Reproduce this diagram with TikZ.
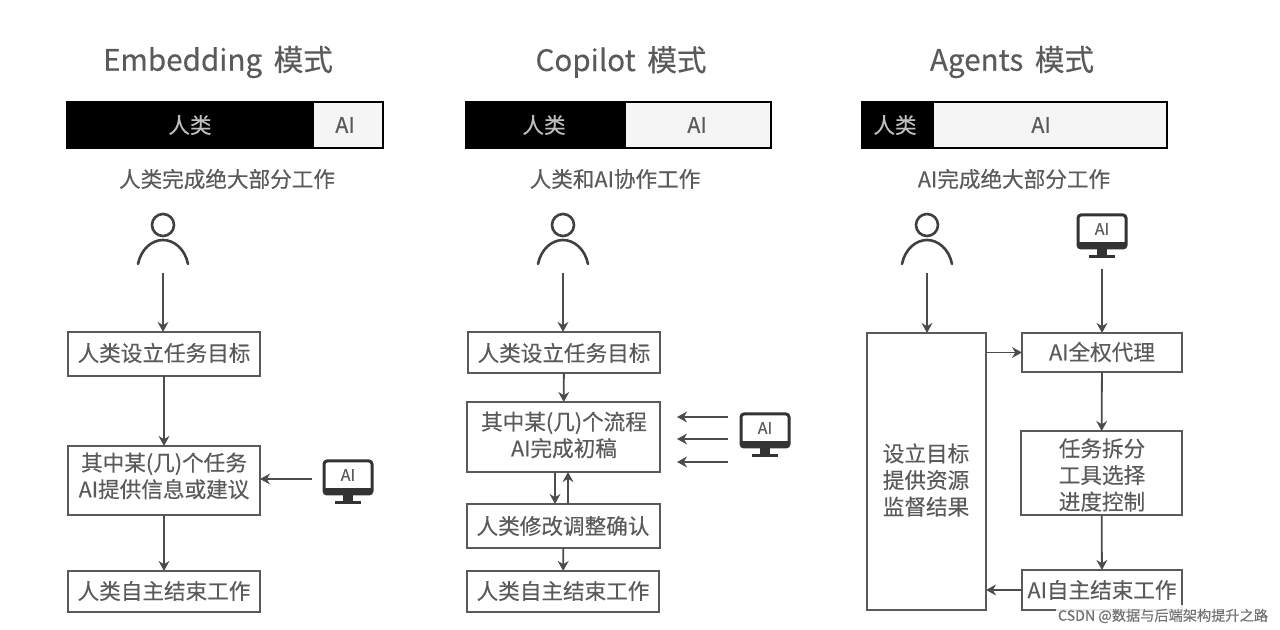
\documentclass[tikz,border=0pt]{standalone}
\usepackage{fontspec}
\setmainfont{Noto Sans CJK SC}[FakeBold=0.25]
\usetikzlibrary{arrows.meta}
\definecolor{ink}{HTML}{5A5A5A}
\definecolor{linec}{HTML}{5A5A5A}
\definecolor{barlight}{HTML}{F5F5F5}
\tikzset{
  x=0.5pt,y=-0.5pt,
  every node/.style={inner sep=0pt,outer sep=0pt,text=ink},
  bodyfont/.style={font=\fontsize{10.8}{13.3}\selectfont},
  flowbox/.style={draw=linec,line width=1pt,fill=white,bodyfont,align=center,anchor=north west},
  boxtext/.style={bodyfont,align=center},
  titlelabel/.style={font=\fontsize{14.8}{17}\selectfont},
  caption/.style={bodyfont},
  flow/.style={draw=black!70,line width=0.9pt,-{Stealth[length=5pt,width=5.4pt]}},
  barblack/.style={fill=black,draw=black,line width=1.2pt,anchor=north west},
  barwhite/.style={fill=barlight,draw=black,line width=1.2pt,anchor=north west},
  iconslot/.style={minimum width=26pt,minimum height=24pt},
  pics/personicon/.style={code={
    \draw[line width=1.3pt,draw=black!75] (0,-15) circle (11);
    \draw[line width=1.3pt,draw=black!75,line cap=round] (-25,24) .. controls (-22,9) and (-11,0) .. (0,0) .. controls (11,0) and (22,9) .. (25,24);
  }},
  pics/aiicon/.style={code={
    \draw[line width=1.5pt,draw=black!80,fill=white,rounded corners=1.5pt] (-24,-22) rectangle (24,11);
    \fill[black!80] (-24,5) rectangle (24,11);
    \node[font=\fontsize{8}{9}\selectfont] at (0,-8) {AI};
    \fill[black!80] (-5,11) rectangle (5,18);
    \fill[black!80] (-13,18) rectangle (13,21);
  }},
}
\begin{document}
\begin{tikzpicture}
\useasboundingbox (0,0) rectangle (1280,630);
\fill[white] (0,0) rectangle (1280,630);

% --- Embedding
\node[titlelabel] (t1) at (218,62) {Embedding\, 模式};
\node[barblack,minimum width=123pt,minimum height=23pt] (b1h) at (67,102) {};
\node[barwhite,minimum width=35pt,minimum height=23pt] (b1a) at (313,102) {};
\node[bodyfont,text=black!25] (b1ht) at (190,125) {人类};
\node[bodyfont] (b1at) at (345,125) {AI};
\node[caption] (c1) at (227,179) {人类完成绝大部分工作};
\node[iconslot] (p1) at (163,240) {};
\pic at (p1.center) {personicon};
\node[flowbox,minimum width=96pt,minimum height=22pt] (a1) at (68,332) {};
\node[boxtext] (a1t) at (164,353) {人类设立任务目标};
\node[flowbox,minimum width=96pt,minimum height=34.5pt] (a2) at (68,446) {};
\node[boxtext] (a2t) at (164,476) {其中某(几)个任务\\AI提供信息或建议};
\node[flowbox,minimum width=96pt,minimum height=20.5pt] (a3) at (68,571) {};
\node[boxtext] (a3t) at (164,591) {人类自主结束工作};
\node[iconslot] (m1) at (348,483) {};
\pic at (m1.center) {aiicon};
\coordinate (m1s) at (312,479);
\draw[flow,shorten <=4.5pt] (p1.center |- 0,264) -- (p1.center |- a1.north);
\draw[flow] (a1) -- (a2);
\draw[flow] (a2) -- (a3);
\draw[flow] (m1s) -- (a2.east |- m1s);

% --- Copilot
\node[titlelabel] (t2) at (621,62) {Copilot\, 模式};
\node[barblack,minimum width=79.5pt,minimum height=23pt] (b2h) at (466,102) {};
\node[barwhite,minimum width=73pt,minimum height=23pt] (b2a) at (625,102) {};
\node[bodyfont,text=black!25] (b2ht) at (544,125) {人类};
\node[bodyfont] (b2at) at (697,125) {AI};
\node[caption] (c2) at (615,179) {人类和AI协作工作};
\node[iconslot] (p2) at (563,240) {};
\pic at (p2.center) {personicon};
\node[flowbox,minimum width=96pt,minimum height=20.5pt] (e1) at (468,332) {};
\node[boxtext] (e1t) at (564,353) {人类设立任务目标};
\node[flowbox,minimum width=96.5pt,minimum height=35pt] (e2) at (467,402) {};
\node[boxtext] (e2t) at (564,435) {其中某(几)个流程\\AI完成初稿};
\node[flowbox,minimum width=96.5pt,minimum height=22pt] (e3) at (467,504) {};
\node[boxtext] (e3t) at (563,526) {人类修改调整确认};
\node[flowbox,minimum width=96pt,minimum height=20.5pt] (e4) at (467,571) {};
\node[boxtext] (e4t) at (563,591) {人类自主结束工作};
\node[iconslot] (m2) at (765,436) {};
\pic at (m2.center) {aiicon};
\coordinate (s1) at (728,417);
\coordinate (s2) at (728,439);
\coordinate (s3) at (728,462);
\coordinate (g1) at (677,417);
\coordinate (g2) at (677,439);
\coordinate (g3) at (677,462);
\draw[flow,shorten <=4.5pt] (p2.center |- 0,264) -- (p2.center |- e1.north);
\draw[flow] (e1) -- (e2);
\draw[flow] (e2.south -| 555,0) -- (e3.north -| 555,0);
\draw[flow] (e3.north -| 568,0) -- (e2.south -| 568,0);
\draw[flow] (e3) -- (e4);
\draw[flow] (s1) -- (g1);
\draw[flow] (s2) -- (g2);
\draw[flow] (s3) -- (g3);

% --- Agents
\node[titlelabel] (t3) at (1012,62) {Agents\, 模式};
\node[barblack,minimum width=35.5pt,minimum height=23pt] (b3h) at (862,102) {};
\node[barwhite,minimum width=117pt,minimum height=23pt] (b3a) at (933,102) {};
\node[bodyfont,text=black!25] (b3ht) at (895,125) {人类};
\node[bodyfont] (b3at) at (1041,125) {AI};
\node[caption] (c3) at (1014,179) {AI完成绝大部分工作};
\node[iconslot] (p3) at (927,240) {};
\pic at (p3.center) {personicon};
\node[iconslot] (m3) at (1102,237) {};
\pic at (m3.center) {aiicon};
\node[flowbox,minimum width=59.5pt,minimum height=138.5pt] (k1) at (867,333) {};
\node[boxtext] (k1t) at (926,480) {设立目标\\提供资源\\监督结果};
\node[flowbox,minimum width=80pt,minimum height=19.5pt] (k2) at (1022,333) {};
\node[boxtext] (k2t) at (1102,352) {AI全权代理};
\node[flowbox,minimum width=80.5pt,minimum height=42pt] (k3) at (1021,431) {};
\node[boxtext] (k3t) at (1102,475) {任务拆分\\工具选择\\进度控制};
\node[flowbox,minimum width=80pt,minimum height=20pt] (k4) at (1022,570) {};
\node[boxtext] (k4t) at (1102,590) {AI自主结束工作};
\draw[flow,shorten <=4.5pt] (p3.center |- 0,264) -- (p3.center |- k1.north);
\draw[flow,shorten <=4pt] (m3.south) -- (k2.north);
\draw[flow] (k1.east |- k2.west) -- (k2.west);
\draw[flow] (k2) -- (k3);
\draw[flow] (k3) -- (k4);
\draw[flow] (k4.west) -- (k1.east |- k4.west);

% --- Watermark
\node[font=\fontsize{7.1}{8}\selectfont,text=black!55,fill=white,fill opacity=0.85,text opacity=1,anchor=east,inner xsep=1pt,inner ysep=2pt] (wm) at (1270,616) {CSDN @数据与后端架构提升之路};
\end{tikzpicture}
\end{document}
